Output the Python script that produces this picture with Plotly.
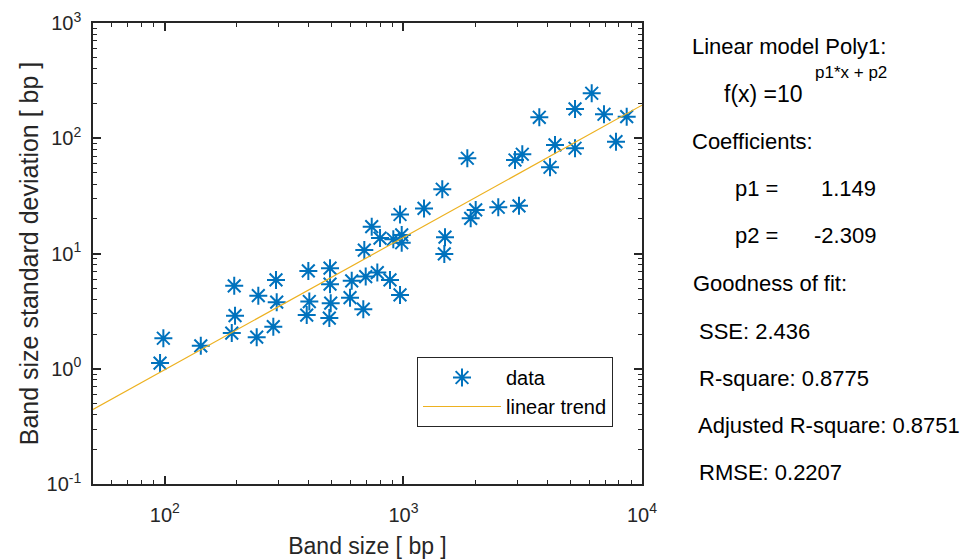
import plotly.graph_objects as go

# ---- data ----
band_size = [95.5, 98.6, 141.5, 190.8, 196.9, 195.4, 242.7, 246.5, 284.9, 294.4,
             292.4, 399.5, 403.3, 393.3, 492.5, 492.5, 495.8, 489.2, 607.3, 597.4,
             685.7, 695.0, 679.0, 736.5, 777.4, 798.0, 878.6, 907.2, 967.8, 983.7,
             983.7, 967.8, 1220, 1455, 1853, 1494, 1484, 1914, 2009, 2498,
             3051, 2936, 3150, 4116, 4319, 3712, 5239, 5239, 6155, 6929,
             7780, 8627]
band_sd = [1.12, 1.84, 1.58, 2.04, 2.89, 5.24, 1.88, 4.31, 2.32, 3.78,
           5.90, 7.06, 3.83, 2.92, 7.46, 5.42, 3.71, 2.75, 5.79, 4.14,
           10.7, 6.31, 3.29, 17.1, 6.83, 13.6, 5.90, 13.3, 21.8, 14.5,
           12.4, 4.37, 24.6, 36.1, 67.1, 13.85, 9.92, 20.2, 23.9, 25.2,
           25.9, 64.8, 72.6, 56.0, 87.5, 152, 179.6, 81.9, 245.7, 161.5,
           93.4, 153.9]

trend_x = [50, 10000]
trend_y = [0.443, 193.7]

x_tickvals = [100, 1000, 10000]
x_ticktext = ["10<sup>2</sup>", "10<sup>3</sup>", "10<sup>4</sup>"]
y_tickvals = [0.1, 1, 10, 100, 1000]
y_ticktext = ["10<sup>-1</sup>", "10<sup>0</sup>", "10<sup>1</sup>", "10<sup>2</sup>", "10<sup>3</sup>"]

fit_lines = [
    "Linear model Poly1:",
    "Coefficients:",
    "Goodness of fit:",
    "SSE: 2.436",
    "R-square: 0.8775",
    "Adjusted R-square: 0.8751",
    "RMSE: 0.2207",
]
coef_names = ["p1 =", "p2 ="]
coef_values = ["1.149", "-2.309"]

# ---- layout geometry (pixels) ----
W, H = 960, 559
L, R, T, B = 93, 642, 23, 484
pw, ph = R - L, B - T


def px(xp):
    return (xp - L) / pw


def py(yp):
    return (B - yp) / ph


BLUE = "#0072BD"
GOLD = "#EDB120"
AX = "#262626"
FONT = "Liberation Sans, Arial, Helvetica, sans-serif"

fig = go.Figure()
fig.add_trace(go.Scatter(
    x=band_size, y=band_sd, mode="markers", name="data",
    marker=dict(symbol="asterisk-open", size=15, color=BLUE,
                line=dict(color=BLUE, width=2)),
))
fig.add_trace(go.Scatter(
    x=trend_x, y=trend_y, mode="lines", name="linear trend",
    line=dict(color=GOLD, width=1.2),
))

minor_x = [m * 10 ** e for e in range(1, 4) for m in range(2, 10) if 50 <= m * 10 ** e <= 10000]
minor_y = [m * 10 ** e for e in range(-1, 3) for m in range(2, 10)]

axis_common = dict(
    type="log", showgrid=False, zeroline=False, automargin=False,
    showline=True, linecolor=AX, linewidth=1.5, mirror="allticks",
    ticks="inside", ticklen=8, tickwidth=1.5, tickcolor=AX,
    tickfont=dict(family=FONT, size=20, color=AX),
)

fig.update_xaxes(
    **axis_common,
    range=[1.69897, 4],
    tickmode="array", tickvals=x_tickvals, ticktext=x_ticktext,
    minor=dict(ticks="inside", ticklen=4, tickwidth=1.2, tickcolor=AX,
               tickmode="array", tickvals=minor_x, showgrid=False),
    ticklabelstandoff=12,
    title=dict(text="Band size [ bp ]", font=dict(family=FONT, size=23, color=AX), standoff=14),
)
fig.update_yaxes(
    **axis_common,
    range=[-1, 3],
    tickmode="array", tickvals=y_tickvals, ticktext=y_ticktext,
    minor=dict(ticks="inside", ticklen=4, tickwidth=1.2, tickcolor=AX,
               tickmode="array", tickvals=minor_y, showgrid=False),
    ticklabelstandoff=6,
    title=dict(text="Band size standard deviation [ bp ]", font=dict(family=FONT, size=25, color=AX), standoff=1),
)

ann = []


def add_text(text, xp, yp, size=22, xanchor="left"):
    ann.append(dict(text=text, x=px(xp), y=py(yp), xref="paper", yref="paper",
                    xanchor=xanchor, yanchor="middle", showarrow=False,
                    font=dict(family=FONT, size=size, color="#000000")))


add_text(fit_lines[0], 690, 46)
add_text("f(x) =10", 722, 94, size=23)
add_text("p1*x + p2", 813, 73, size=17)
add_text(fit_lines[1], 690, 141)
add_text(coef_names[0], 733, 188)
add_text(coef_values[0], 878, 188, xanchor="right")
add_text(coef_names[1], 733, 235)
add_text(coef_values[1], 878, 235, xanchor="right")
add_text(fit_lines[2], 691, 283)
add_text(fit_lines[3], 697, 331)
add_text(fit_lines[4], 697, 378)
add_text(fit_lines[5], 696, 425)
add_text(fit_lines[6], 697, 472)

fig.update_layout(
    width=W, height=H,
    margin=dict(l=L, r=W - R, t=T, b=H - B, autoexpand=False),
    paper_bgcolor="white", plot_bgcolor="white",
    font=dict(family=FONT, color=AX),
    annotations=ann,
    showlegend=True,
    legend=dict(
        x=px(417), y=py(357), xanchor="left", yanchor="top",
        bgcolor="white", bordercolor=AX, borderwidth=1,
        font=dict(family=FONT, size=20, color="#000000"),
        itemwidth=78, tracegroupgap=0,
    ),
)

fig.write_html("out.html", config={"displayModeBar": False},
               post_script="document.body.style.margin='0';document.body.style.padding='0';")
